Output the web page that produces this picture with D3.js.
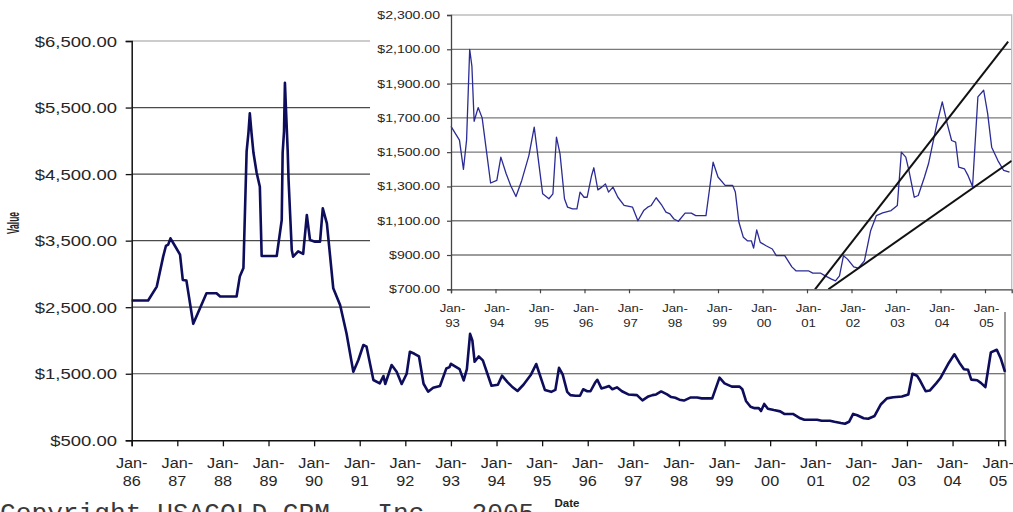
<!DOCTYPE html>
<html><head><meta charset="utf-8">
<script src="https://cdn.jsdelivr.net/npm/d3@7"></script>
<style>body{margin:0;background:#fff;} svg{display:block;}</style>
</head><body>
<svg id="c" width="1013" height="512"></svg>
<script>
// ---------- data ----------
const mainYTicks = [500, 1500, 2500, 3500, 4500, 5500, 6500];
const mainXTicks = [1986,1987,1988,1989,1990,1991,1992,1993,1994,1995,1996,1997,1998,1999,2000,2001,2002,2003,2004,2005];
const insetYTicks = [700, 900, 1100, 1300, 1500, 1700, 1900, 2100, 2300];
const insetXTicks = [1993,1994,1995,1996,1997,1998,1999,2000,2001,2002,2003,2004,2005];

const earlyDates = [1986.0,1986.36,1986.55,1986.69,1986.75,1986.8,1986.85,1986.95,1987.06,1987.12,1987.2,1987.35,1987.64,1987.86,1987.94,1988.3,1988.37,1988.45,1988.52,1988.56,1988.59,1988.63,1988.67,1988.74,1988.81,1988.85,1989.18,1989.29,1989.31,1989.34,1989.36,1989.39,1989.42,1989.44,1989.51,1989.54,1989.65,1989.76,1989.84,1989.91,1990.02,1990.13,1990.19,1990.28,1990.42,1990.57,1990.71,1990.86,1990.97,1991.08,1991.15,1991.3,1991.44,1991.52,1991.56,1991.7,1991.81,1991.92,1992.03,1992.1,1992.2,1992.3,1992.4,1992.5,1992.61,1992.76,1992.9,1992.97];
const earlyValues = [2600,2600,2810,3260,3420,3440,3535,3420,3290,2910,2900,2250,2710,2710,2660,2660,2960,3090,4840,5120,5414,5100,4820,4520,4310,3270,3270,3810,4820,5140,5873,5360,4860,4410,3360,3260,3340,3300,3885,3510,3485,3485,3986,3760,2784,2533,2108,1531,1707,1932,1907,1406,1356,1466,1346,1632,1531,1346,1500,1830,1800,1760,1350,1230,1290,1316,1580,1600];

const lateDates = [1993.0,1993.19,1993.28,1993.35,1993.42,1993.47,1993.52,1993.61,1993.7,1993.8,1993.89,1994.03,1994.12,1994.24,1994.34,1994.46,1994.59,1994.75,1994.87,1995.06,1995.2,1995.29,1995.37,1995.45,1995.55,1995.62,1995.73,1995.83,1995.9,1995.99,1996.06,1996.16,1996.21,1996.3,1996.39,1996.47,1996.54,1996.64,1996.75,1996.89,1997.08,1997.2,1997.33,1997.42,1997.5,1997.61,1997.74,1997.83,1997.92,1998.01,1998.11,1998.26,1998.4,1998.5,1998.73,1998.89,1999.0,1999.16,1999.33,1999.39,1999.47,1999.57,1999.66,1999.75,1999.8,1999.87,1999.95,2000.08,2000.22,2000.31,2000.5,2000.66,2000.75,2001.03,2001.13,2001.31,2001.41,2001.55,2001.64,2001.73,2001.82,2001.91,2002.05,2002.15,2002.29,2002.43,2002.56,2002.7,2002.89,2003.03,2003.12,2003.22,2003.29,2003.41,2003.5,2003.64,2003.73,2003.92,2004.04,2004.15,2004.25,2004.34,2004.41,2004.54,2004.62,2004.72,2004.84,2004.97,2005.06,2005.15,2005.29,2005.42,2005.55];
const lateValues = [1650,1570,1400,1570,2100,2000,1680,1760,1700,1500,1320,1335,1471,1374,1306,1241,1335,1480,1646,1257,1228,1257,1588,1490,1228,1179,1169,1169,1267,1237,1237,1364,1409,1280,1296,1315,1267,1296,1237,1189,1179,1100,1159,1179,1189,1234,1189,1150,1140,1110,1097,1144,1144,1130,1130,1441,1355,1306,1306,1267,1091,1003,983,983,940,1046,974,954,935,896,896,831,808,808,794,794,778,759,749,778,896,876,831,823,866,1042,1130,1146,1159,1189,1500,1471,1394,1237,1247,1355,1432,1666,1793,1666,1568,1559,1412,1402,1363,1300,1822,1861,1725,1529,1451,1393,1383];

const mainEnd = 2005.15;
const trendUpperDates = [2001.18, 2005.52];
const trendUpperValues = [700, 2145];
const trendLowerDates = [2001.48, 2005.6];
const trendLowerValues = [700, 1450];

// ---------- drawing ----------
const svg = d3.select('#c');
const FONT = 'Arial, "Liberation Sans", sans-serif';

function stretchedText(g, x, y, str, size, sx, anchor, fill, weight) {
  g.append('text')
    .attr('transform', `translate(${x},${y}) scale(${sx},1)`)
    .attr('text-anchor', anchor)
    .attr('font-family', FONT)
    .attr('font-size', size)
    .attr('font-weight', weight || 'normal')
    .attr('fill', fill)
    .text(str);
}

const money = d => '$' + d3.format(',.2f')(d);

// main chart scales
const mx = d3.scaleLinear().domain([1986, mainEnd]).range([131.7, 1005]);
const my = d3.scaleLinear().domain([500, 6500]).range([440.3, 41]);

const mainG = svg.append('g');

// gridlines
mainG.selectAll('line.grid').data(mainYTicks.filter(d => d > 500)).enter().append('line')
  .attr('x1', mx(1986)).attr('x2', mx(mainEnd))
  .attr('y1', d => my(d)).attr('y2', d => my(d))
  .attr('stroke', d => d === 6500 ? '#9a9a9a' : '#4a4a4a').attr('stroke-width', 1.2);

// right border
mainG.append('line').attr('x1', mx(mainEnd)).attr('x2', mx(mainEnd))
  .attr('y1', my(6500)).attr('y2', my(500)).attr('stroke', '#555').attr('stroke-width', 1.2);

// main series
const mainDates = earlyDates.concat(lateDates.filter(d => d <= mainEnd));
const mainValues = earlyValues.concat(lateValues.filter((v, i) => lateDates[i] <= mainEnd));
const mainPts = mainDates.map((d, i) => [d, mainValues[i]]);
mainG.append('path').datum(mainPts)
  .attr('d', d3.line().x(d => mx(d[0])).y(d => my(d[1])))
  .attr('fill', 'none').attr('stroke', '#0d0d5c').attr('stroke-width', 2.6)
  .attr('stroke-linejoin', 'round');

// axes
const yAxis = d3.axisLeft(my).tickValues(mainYTicks).tickSize(6).tickFormat('');
const yg = mainG.append('g').attr('transform', `translate(${mx(1986)},0)`).call(yAxis);
yg.select('.domain').attr('stroke', '#111').attr('stroke-width', 1.5);
yg.selectAll('.tick line').attr('stroke', '#111').attr('stroke-width', 1.3);
mainYTicks.forEach(v => stretchedText(mainG, 117, my(v) + 5.5, money(v), 15.4, 1.2, 'end', '#262626'));

const xAxis = d3.axisBottom(mx).tickValues(mainXTicks).tickSize(6).tickFormat('');
const xg = mainG.append('g').attr('transform', `translate(0,${my(500)})`).call(xAxis);
xg.select('.domain').attr('stroke', '#111').attr('stroke-width', 1.5);
xg.selectAll('.tick line').attr('stroke', '#111').attr('stroke-width', 1.3);
mainXTicks.forEach(yv => {
  stretchedText(mainG, mx(yv), 468, 'Jan-', 14, 1.16, 'middle', '#262626');
  stretchedText(mainG, mx(yv), 486, String(yv).slice(2), 14, 1.16, 'middle', '#262626');
});

// axis titles
stretchedText(mainG, 567, 507, 'Date', 10.5, 1.1, 'middle', '#222', 'bold');
mainG.append('text')
  .attr('transform', 'translate(19,223) rotate(-90) scale(0.68,1.25)')
  .attr('text-anchor', 'middle').attr('font-family', FONT).attr('font-size', 12.5)
  .attr('font-weight', 'bold').attr('fill', '#222').text('Value');

// copyright
svg.append('text').attr('x', 0).attr('y', 521)
  .attr('font-family', '"Liberation Mono", "DejaVu Sans Mono", monospace')
  .attr('font-size', 26.2).attr('fill', '#3a3a3a').attr('xml:space', 'preserve')
  .style('white-space', 'pre')
  .text('Copyright USAGOLD-CPM,  Inc.  2005');

// ---------- inset ----------
const ix = d3.scaleLinear().domain([1993, 2005.6]).range([451, 1011.7]);
const iy = d3.scaleLinear().domain([700, 2300]).range([289.3, 15]);
const insetG = svg.append('g');

insetG.append('rect').attr('x', 370).attr('y', 0).attr('width', 643).attr('height', 312).attr('fill', '#fff');

insetG.selectAll('line.igrid').data(insetYTicks.filter(d => d > 700 && d < 2300)).enter().append('line')
  .attr('x1', ix(1993)).attr('x2', ix(2005.6))
  .attr('y1', d => iy(d)).attr('y2', d => iy(d))
  .attr('stroke', '#7a7a7a').attr('stroke-width', 1.3);

// top and right border
insetG.append('path')
  .attr('d', `M${ix(1993)},${iy(2300)}H${ix(2005.6)}V${iy(700)}`)
  .attr('fill', 'none').attr('stroke', '#bdbdbd').attr('stroke-width', 1.3);

const clipId = 'insetClip';
svg.append('defs').append('clipPath').attr('id', clipId).append('rect')
  .attr('x', ix(1993)).attr('y', iy(2300)).attr('width', ix(2005.6) - ix(1993)).attr('height', iy(700) - iy(2300));

const latePts = lateDates.map((d, i) => [d, lateValues[i]]);
insetG.append('path').datum(latePts)
  .attr('d', d3.line().x(d => ix(d[0])).y(d => iy(d[1])))
  .attr('fill', 'none').attr('stroke', '#2b2b96').attr('stroke-width', 1.3)
  .attr('stroke-linejoin', 'round');

const trendLine = d3.line().x(d => ix(d[0])).y(d => iy(d[1]));
[[trendUpperDates, trendUpperValues], [trendLowerDates, trendLowerValues]].forEach(([ds, vs]) => {
  insetG.append('path').datum(ds.map((d, i) => [d, vs[i]]))
    .attr('d', trendLine).attr('clip-path', `url(#${clipId})`)
    .attr('fill', 'none').attr('stroke', '#111').attr('stroke-width', 2);
});

const iyAxis = d3.axisLeft(iy).tickValues(insetYTicks).tickSize(4).tickFormat('');
const iyg = insetG.append('g').attr('transform', `translate(${ix(1993)},0)`).call(iyAxis);
iyg.select('.domain').attr('stroke', '#444').attr('stroke-width', 1.3);
iyg.selectAll('.tick line').attr('stroke', '#444').attr('stroke-width', 1.2);
insetYTicks.forEach(v => stretchedText(insetG, 440, iy(v) + 4, money(v), 11.2, 1.26, 'end', '#262626'));

const ixAxis = d3.axisBottom(ix).tickValues(insetXTicks).tickSize(4).tickFormat('');
const ixg = insetG.append('g').attr('transform', `translate(0,${iy(700)})`).call(ixAxis);
ixg.select('.domain').attr('stroke', '#444').attr('stroke-width', 1.3);
ixg.selectAll('.tick line').attr('stroke', '#444').attr('stroke-width', 1.2);
insetXTicks.forEach(yv => {
  stretchedText(insetG, ix(yv) + 1.5, 311.5, 'Jan-', 11, 1.2, 'middle', '#262626');
  stretchedText(insetG, ix(yv) + 1.5, 326.5, String(yv).slice(2), 11, 1.2, 'middle', '#262626');
});
</script>
</body></html>
